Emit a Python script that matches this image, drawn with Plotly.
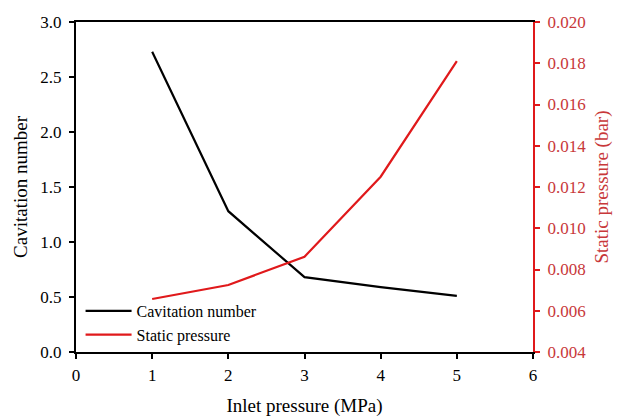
import plotly.graph_objects as go

inlet_pressure = [1, 2, 3, 4, 5]
cavitation_number = [2.73, 1.28, 0.68, 0.59, 0.51]
static_pressure = [0.00657, 0.00725, 0.00862, 0.0125, 0.0181]

FONT = "Liberation Serif"
RED_LINE = "#e0191b"
RED_TEXT = "#c8383a"

fig = go.Figure()
fig.add_trace(go.Scatter(x=inlet_pressure, y=cavitation_number, mode="lines",
                         name="Cavitation number",
                         line=dict(color="black", width=2.2)))
fig.add_trace(go.Scatter(x=inlet_pressure, y=static_pressure, mode="lines",
                         name="Static pressure", yaxis="y2",
                         line=dict(color=RED_LINE, width=2.2)))

fig.update_layout(
    width=617, height=417,
    margin=dict(l=76, r=84, t=22, b=65, autoexpand=False),
    paper_bgcolor="white", plot_bgcolor="white",
    font=dict(family=FONT, size=16, color="black"),
    showlegend=True,
    legend=dict(x=0.01, y=0.0, xanchor="left", yanchor="bottom",
                bgcolor="rgba(0,0,0,0)", font=dict(family=FONT, size=16),
                tracegroupgap=0, itemwidth=46),
    xaxis=dict(range=[0, 6], dtick=1, tick0=0, showgrid=False, zeroline=False,
               showline=True, linecolor="black", linewidth=2, mirror=True,
               ticks="outside", ticklen=5, tickwidth=2, tickcolor="black",
               tickfont=dict(family=FONT, size=17), ticklabelstandoff=2,
               automargin=False,
               title=dict(text="Inlet pressure (MPa)", font=dict(family=FONT, size=19),
                          standoff=14)),
    yaxis=dict(range=[0, 3], dtick=0.5, tick0=0, tickformat=".1f", showgrid=False,
               zeroline=False, showline=True, linecolor="black", linewidth=2,
               ticks="outside", ticklen=5, tickwidth=2, tickcolor="black",
               tickfont=dict(family=FONT, size=17), ticklabelstandoff=4,
               automargin=False,
               title=dict(text="Cavitation number", font=dict(family=FONT, size=19),
                          standoff=8)),
    yaxis2=dict(range=[0.004, 0.020], dtick=0.002, tick0=0.004, tickformat=".3f",
                overlaying="y", side="right", showgrid=False, zeroline=False,
                showline=True, linecolor=RED_LINE, linewidth=2,
                ticks="outside", ticklen=5, tickwidth=2, tickcolor=RED_LINE,
                tickfont=dict(family=FONT, size=17, color=RED_TEXT), ticklabelstandoff=4,
                automargin=False,
                title=dict(text="Static pressure (bar)",
                           font=dict(family=FONT, size=19, color=RED_TEXT),
                           standoff=10)),
)

fig.write_html("out.html")
